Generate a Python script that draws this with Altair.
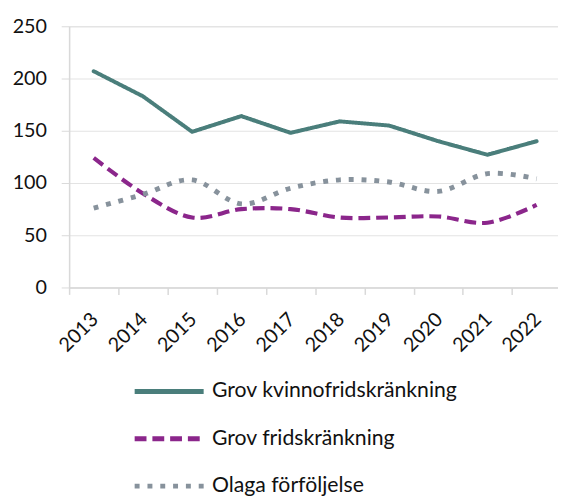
import altair as alt
import pandas as pd

years = [2013, 2014, 2015, 2016, 2017, 2018, 2019, 2020, 2021, 2022]
series_names = ["Grov kvinnofridskränkning", "Grov fridskränkning", "Olaga förföljelse"]
grov_kvinnofrid = [207, 183, 149, 164, 148, 159, 155, 140, 127, 140]
grov_frid = [124, 90, 67, 75, 75, 67, 67, 68, 62, 79]
olaga = [76, 89, 103, 80, 95, 103, 101, 92, 109, 104]
y_ticks = [0, 50, 100, 150, 200, 250]
x_boundaries = [y - 0.5 for y in years]

colors = ["#4A7E7B", "#8B268B", "#87929C"]
dashes = [[1, 0], [12, 6], [5, 8]]

rows = []
for name, vals in zip(series_names, [grov_kvinnofrid, grov_frid, olaga]):
    for yr, v in zip(years, vals):
        rows.append({"year": yr, "value": v, "series": name})
df = pd.DataFrame(rows)

FONT = "Lato"

x_enc = alt.X(
    "year:Q",
    scale=alt.Scale(domain=[2012.5, 2022.434], nice=False, zero=False),
    axis=alt.Axis(
        values=x_boundaries,
        labelExpr="'' + (datum.value + 0.5)",
        labelAngle=315,
        labelAlign="right",
        labelBaseline="middle",
        labelOffset=26,
        labelPadding=22,
        labelOverlap=False,
        labelFlush=False,
        labelFont=FONT,
        labelFontSize=20,
        labelColor="#111111",
        tickSize=7,
        tickColor="#d9d9d9",
        tickWidth=1.5,
        domainColor="#d9d9d9",
        domainWidth=1.5,
        grid=False,
        title=None,
    ),
)
y_enc = alt.Y(
    "value:Q",
    scale=alt.Scale(domain=[0, 250], nice=False),
    axis=alt.Axis(
        values=y_ticks,
        tickSize=8,
        tickColor="#d9d9d9",
        labelPadding=15,
        labelFont=FONT,
        labelFontSize=20,
        labelColor="#111111",
        gridColor="#e3e3e3",
        gridWidth=1.2,
        domainColor="#d9d9d9",
        domainWidth=1.5,
        title=None,
    ),
)
legend = alt.Legend(
    title=None,
    orient="none",
    legendX=64,
    legendY=333,
    direction="vertical",
    symbolType="stroke",
    symbolSize=4900,
    symbolStrokeWidth=5,
    labelFont=FONT,
    labelFontSize=21.5,
    labelColor="#111111",
    labelLimit=500,
    labelOffset=6,
    rowPadding=-31,
    padding=0,
)
color = alt.Color(
    "series:N",
    scale=alt.Scale(domain=series_names, range=colors),
    sort=series_names,
    legend=legend,
)
dash = alt.StrokeDash(
    "series:N",
    scale=alt.Scale(domain=series_names, range=dashes),
    sort=series_names,
    legend=legend,
)
base = alt.Chart(df)
solid = base.transform_filter(
    alt.datum.series == series_names[0]
).mark_line(strokeWidth=4, strokeCap="round", strokeJoin="round").encode(
    x=x_enc, y=y_enc, color=color, strokeDash=dash, order="year:Q"
)
dashed = base.transform_filter(
    alt.datum.series == series_names[1]
).mark_line(interpolate="cardinal", strokeWidth=4.2, strokeCap="butt", strokeJoin="round").encode(
    x=x_enc, y=y_enc, color=color, strokeDash=dash, order="year:Q"
)
dotted = base.transform_filter(
    alt.datum.series == series_names[2]
).mark_line(interpolate="cardinal", strokeWidth=5, strokeCap="butt", strokeJoin="round").encode(
    x=x_enc, y=y_enc, color=color, strokeDash=dash, order="year:Q"
)

chart = alt.layer(solid, dashed, dotted).properties(
    width=496,
    height=265,
    autosize=alt.AutoSizeParams(type="none"),
    padding={"left": 62, "top": 15, "right": 0, "bottom": 209},
).configure_view(stroke=None).configure(background="white")

chart.save("out.html", embed_options={"renderer": "svg", "actions": False})
